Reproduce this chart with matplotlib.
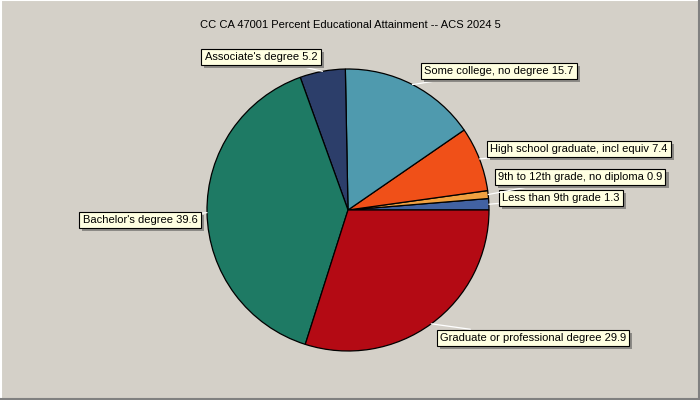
import numpy as np
import matplotlib
matplotlib.use('Agg')
from matplotlib import pyplot as plt
from matplotlib.lines import Line2D
import matplotlib.patheffects as pe

labels = ['Less than 9th grade', '9th to 12th grade, no diploma',
          'High school graduate, incl equiv', 'Some college, no degree',
          "Associate's degree", "Bachelor's degree",
          'Graduate or professional degree']
values = [1.3, 0.9, 7.4, 15.7, 5.2, 39.6, 29.9]
colors = ['#4262a2', '#f0a040', '#f05018', '#4f9aae', '#2c3e6a', '#1e7a64', '#b40a14']
# label box centres (pixels, y down)
label_pos = [(561, 198), (580, 177), (579, 149), (499, 71), (261, 57), (140, 220), (533, 338)]

plt.rcParams['font.family'] = ['Liberation Sans', 'DejaVu Sans']
bg = '#d4d0c8'

fig = plt.figure(figsize=(7, 4), dpi=100, facecolor=bg)
ax = fig.add_axes([0, 0, 1, 1])
ax.set_facecolor(bg)

cx, cy, r = 348, 400 - 210, 141
wedges, _ = ax.pie(values, colors=colors, startangle=0, counterclock=True,
                   center=(cx, cy), radius=r, frame=True,
                   wedgeprops=dict(edgecolor='black', linewidth=0.9))
ax.set_xlim(0, 700)
ax.set_ylim(0, 400)
ax.set_aspect('equal')
ax.axis('off')

for w, lab, v, (lx, ly) in zip(wedges, labels, values, label_pos):
    mid = np.deg2rad((w.theta1 + w.theta2) / 2)
    px, py = cx + r * np.cos(mid), cy + r * np.sin(mid)
    txt = '%s %.1f' % (lab, v)
    t = ax.annotate(txt, xy=(px, py), xytext=(lx, 400 - ly), fontsize=8,
                    ha='center', va='center', zorder=5,
                    bbox=dict(boxstyle='square,pad=0.3', fc='#ffffe1', ec='black', lw=0.8),
                    arrowprops=dict(arrowstyle='-', color='white', lw=0.9,
                                    shrinkA=0, shrinkB=0))
    t.get_bbox_patch().set_path_effects([
        pe.SimplePatchShadow(offset=(2.2, -2.2), shadow_rgbFace='#8c8a86', alpha=1),
        pe.Normal()])

fig.text(0.5, 1 - 25 / 400, 'CC CA 47001 Percent Educational Attainment -- ACS 2024 5',
         ha='center', va='center', fontsize=8)

# window-like border
fig.add_artist(Line2D([0.001, 0.001], [0, 1], color='white', lw=1.5, transform=fig.transFigure))
fig.add_artist(Line2D([0, 1], [0.999, 0.999], color='white', lw=1.5, transform=fig.transFigure))
fig.add_artist(Line2D([0, 1], [0.002, 0.002], color='#808080', lw=1.5, transform=fig.transFigure))
fig.add_artist(Line2D([0.999, 0.999], [0, 1], color='#808080', lw=1.5, transform=fig.transFigure))

fig.savefig('out.png', dpi=100, facecolor=bg)
